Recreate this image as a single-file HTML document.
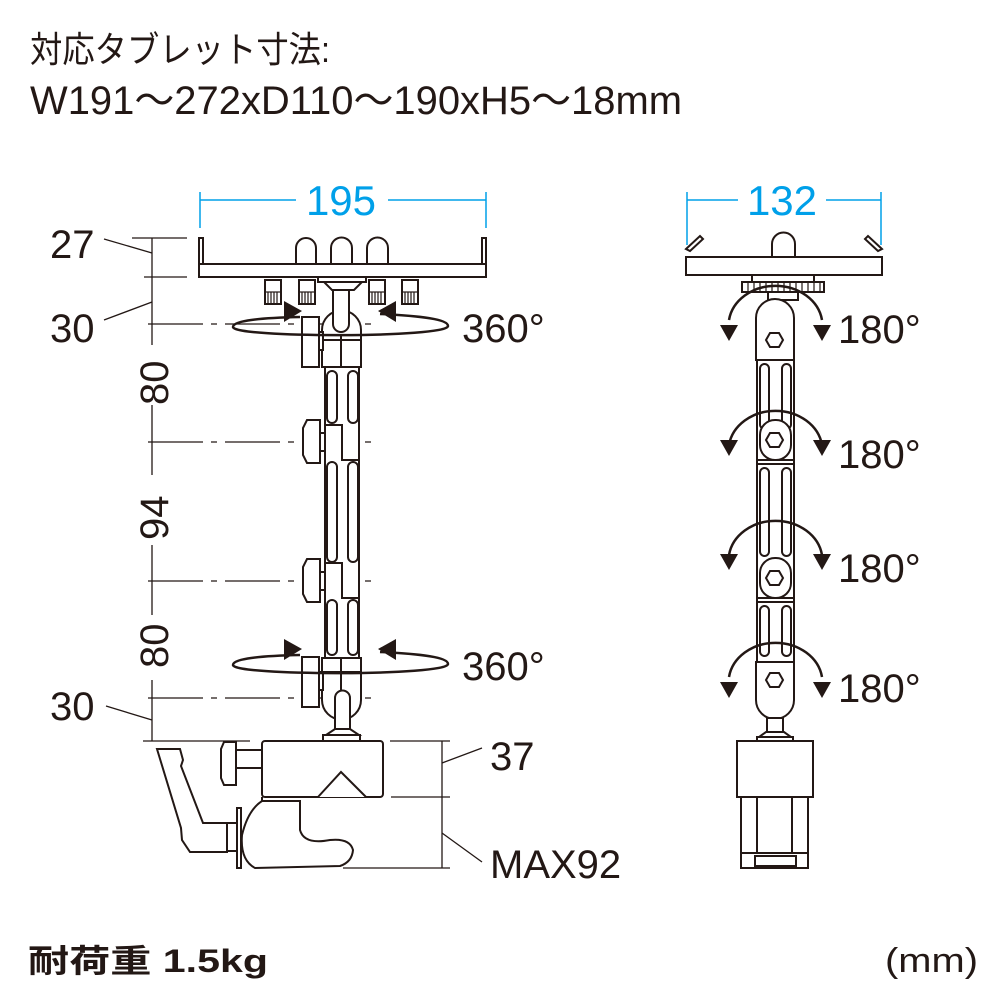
<!DOCTYPE html>
<html><head><meta charset="utf-8"><style>
html,body{margin:0;padding:0;background:#fff}
svg{display:block}
text{font-family:"Liberation Sans","Noto Sans CJK JP",sans-serif;fill:#231815}
</style></head><body>
<svg width="1000" height="1000" viewBox="0 0 1000 1000" xmlns="http://www.w3.org/2000/svg">
<!-- Title -->
<text x="30" y="62" font-size="36" textLength="300" lengthAdjust="spacingAndGlyphs">対応タブレット寸法:</text>
<text x="30" y="114" font-size="40" textLength="652" lengthAdjust="spacingAndGlyphs">W191～272xD110～190xH5～18mm</text>
<text x="28" y="972" font-size="32" font-weight="bold" textLength="240" lengthAdjust="spacingAndGlyphs">耐荷重 1.5kg</text>
<text x="885" y="972" font-size="34" textLength="93" lengthAdjust="spacingAndGlyphs">(mm)</text>

<g stroke="#00a0e9" fill="none" stroke-width="1.5">
<line x1="200" y1="192" x2="200" y2="228"/><line x1="486" y1="192" x2="486" y2="228"/>
<line x1="200" y1="200" x2="296" y2="200"/><line x1="388" y1="200" x2="486" y2="200"/>
<line x1="687" y1="192" x2="687" y2="245"/><line x1="881" y1="192" x2="881" y2="245"/>
<line x1="687" y1="200" x2="738" y2="200"/><line x1="826" y1="200" x2="881" y2="200"/>
</g>
<text x="341" y="215" font-size="42" style="fill:#00a0e9" text-anchor="middle">195</text>
<text x="782" y="215" font-size="42" style="fill:#00a0e9" text-anchor="middle">132</text>

<g stroke="#231815" fill="none" stroke-width="1.3">
<line x1="152" y1="238" x2="152" y2="345"/>
<line x1="152" y1="405" x2="152" y2="475"/>
<line x1="152" y1="545" x2="152" y2="615"/>
<line x1="152" y1="680" x2="152" y2="741"/>
<line x1="132" y1="238" x2="187" y2="238"/>
<line x1="144" y1="277" x2="187" y2="277"/>
<line x1="143" y1="741" x2="250" y2="741"/>
<line x1="104" y1="239" x2="152" y2="253"/>
<line x1="104" y1="320" x2="152" y2="302"/>
<line x1="106" y1="706" x2="152" y2="720"/>
<g stroke-dasharray="55,8,6,8">
<line x1="148" y1="324" x2="375" y2="324"/>
<line x1="148" y1="442" x2="375" y2="442"/>
<line x1="148" y1="581" x2="375" y2="581"/>
<line x1="148" y1="698" x2="375" y2="698"/>
</g>
<line x1="442" y1="741" x2="442" y2="868"/>
<line x1="390" y1="741" x2="450" y2="741"/>
<line x1="391" y1="797" x2="450" y2="797"/>
<line x1="343" y1="868" x2="450" y2="868"/>
<line x1="442" y1="763" x2="482" y2="748"/>
<line x1="442" y1="833" x2="482" y2="862"/>
</g>
<text x="50" y="258" font-size="40">27</text>
<text x="50" y="342" font-size="40">30</text>
<text x="50" y="720" font-size="40">30</text>
<text x="490" y="770" font-size="40">37</text>
<text x="490" y="878" font-size="40">MAX92</text>
<text font-size="40" transform="translate(168,405) rotate(-90)">80</text>
<text font-size="40" transform="translate(168,540) rotate(-90)">94</text>
<text font-size="40" transform="translate(168,668) rotate(-90)">80</text>
<text x="462" y="342" font-size="40">360°</text>
<text x="462" y="680" font-size="40">360°</text>
<text x="838" y="343" font-size="40">180°</text>
<text x="838" y="468" font-size="40">180°</text>
<text x="838" y="582" font-size="40">180°</text>
<text x="838" y="702" font-size="40">180°</text>

<!-- LEFT DEVICE -->
<g stroke="#231815" fill="#fff" stroke-width="2">
<path d="M296,264 V248 a10,10 0 0 1 20,0 V264"/>
<path d="M331,264 V248 a10.5,10.5 0 0 1 21,0 V264"/>
<path d="M367,264 V248 a10.5,10.5 0 0 1 21,0 V264"/>
<rect x="199" y="238" width="4" height="26"/>
<rect x="482" y="238" width="4" height="26"/>
<rect x="199" y="264" width="287" height="13"/>
<rect x="265" y="280" width="16" height="24"/><rect x="299" y="280" width="16" height="24"/>
<rect x="369" y="280" width="16" height="24"/><rect x="402" y="280" width="16" height="24"/>
<g stroke-width="1.2">
<path d="M268,292v12M271,292v12M274,292v12M277,292v12M302,292v12M305,292v12M308,292v12M311,292v12M372,292v12M375,292v12M378,292v12M381,292v12M405,292v12M408,292v12M411,292v12M414,292v12"/>
<line x1="265" y1="292" x2="281" y2="292"/><line x1="299" y1="292" x2="315" y2="292"/><line x1="369" y1="292" x2="385" y2="292"/><line x1="402" y1="292" x2="418" y2="292"/>
</g>
<rect x="318" y="277" width="48" height="5"/>
<path d="M324,282 L362,282 L354,290 L332,290 z"/>
<path d="M322,367 V330 a19,19 0 0 1 39,0 V367 z"/>
<line x1="341" y1="335" x2="341" y2="367"/>
<line x1="322" y1="340" x2="361" y2="340"/>
<path d="M333,290 H349 V324 a8,8 0 0 1 -16,0 z"/>
<rect x="302" y="317" width="17" height="50"/>
<rect x="319" y="332" width="4" height="18"/>
<rect x="325" y="367" width="34" height="331"/>
<rect x="327" y="371" width="10" height="52" rx="5"/><rect x="348" y="371" width="10" height="52" rx="5"/>
<rect x="327" y="462" width="10" height="100" rx="5"/><rect x="348" y="462" width="10" height="100" rx="5"/>
<rect x="327" y="600" width="10" height="55" rx="5"/><rect x="348" y="600" width="10" height="55" rx="5"/>
<path d="M325,425 H342 V460 H359" fill="none"/>
<path d="M325,563 H342 V598 H359" fill="none"/>
<path d="M307,420 H320 V463 H307 L303,455 V428 z"/>
<rect x="320" y="433" width="5" height="18"/>
<path d="M307,559 H320 V602 H307 L303,594 V567 z"/>
<rect x="320" y="572" width="5" height="18"/>
<path d="M322,658 V700 a19,19 0 0 0 39,0 V658 z"/>
<line x1="341" y1="658" x2="341" y2="692"/>
<line x1="322" y1="672" x2="361" y2="672"/>
<rect x="302" y="657" width="17" height="50"/>
<rect x="319" y="672" width="4" height="18"/>
<path d="M335,730 V698 a7.5,7.5 0 0 1 15,0 V730 z"/>
<path d="M335,729 L350,729 L359,735 L326,735 z"/>
<rect x="323" y="735" width="37" height="6"/>
<path d="M262,797 V801 H300 V830 Q304,845 330,840 Q350,838 353,850 Q352,862 340,866 L255,868 Q240,860 242,835 Q248,810 262,801"/>
<rect x="262" y="741" width="121" height="56" rx="3"/>
<path d="M318,797 L341,772 L366,797"/>
<path d="M224,742 H236 L236,785 H224 L221,778 V749 z"/>
<rect x="236" y="750" width="26" height="18"/>
<rect x="237" y="808" width="4" height="60"/>
<rect x="227" y="823" width="10" height="28"/>
<path d="M157,749 H180 L183,760 L181,766 L203,823 H227 V852 H190 L182,840 L181,828 z"/>
</g>

<g stroke="#231815" fill="none" stroke-width="2.5">
<path d="M300,317 C250,318 233,322 233,327 C233,338 448,338 448,326 C448,319 420,316 380,314"/>
<path d="M300,655 C250,656 233,660 233,665 C233,676 448,676 448,664 C448,657 420,654 380,652"/>
</g>
<path d="M284,301 L302,311 L284,322 z" fill="#231815"/>
<path d="M396,301 L378,311 L396,322 z" fill="#231815"/>
<path d="M284,639 L302,649 L284,660 z" fill="#231815"/>
<path d="M396,639 L378,649 L396,660 z" fill="#231815"/>

<!-- RIGHT DEVICE -->
<g stroke="#231815" fill="#fff" stroke-width="2">
<path d="M772,257 V244 a11.5,11.5 0 0 1 23,0 V257"/>
<path d="M686,249 L700,236 L703,239 L690,251 z"/>
<path d="M882,249 L868,236 L865,239 L878,251 z"/>
<rect x="686" y="257" width="196" height="18"/>
<rect x="752" y="275" width="62" height="7"/>
<rect x="742" y="282" width="82" height="10"/>
<path d="M748,282v10M754,282v10M760,282v10M766,282v10M772,282v10M778,282v10M784,282v10M790,282v10M796,282v10M802,282v10M808,282v10M814,282v10M820,282v10" stroke-width="1.2"/>
<rect x="768" y="292" width="30" height="8"/>
<rect x="757" y="340" width="37" height="340"/>
<path d="M756,360 V318 a19,19 0 0 1 38,0 V360 z"/>
<rect x="760" y="364" width="9" height="65" rx="4.5"/><rect x="782" y="364" width="9" height="65" rx="4.5"/>
<rect x="760" y="420" width="31" height="40" rx="15"/>
<line x1="757" y1="460" x2="794" y2="460"/><line x1="757" y1="464" x2="794" y2="464"/>
<rect x="760" y="468" width="9" height="88" rx="4.5"/><rect x="782" y="468" width="9" height="88" rx="4.5"/>
<rect x="760" y="558" width="31" height="40" rx="15"/>
<line x1="757" y1="598" x2="794" y2="598"/><line x1="757" y1="602" x2="794" y2="602"/>
<rect x="760" y="606" width="9" height="50" rx="4.5"/><rect x="782" y="606" width="9" height="50" rx="4.5"/>
<path d="M756,662 V700 a19,19 0 0 0 38,0 V662 z"/>
<rect x="767" y="718" width="16" height="14"/>
<path d="M766,732 H784 L791,737 H759 z"/>
<rect x="757" y="737" width="36" height="4"/>
<rect x="737" y="741" width="76" height="56"/>
<rect x="741" y="797" width="67" height="71"/>
<line x1="757" y1="797" x2="757" y2="853"/><line x1="792" y1="797" x2="792" y2="853"/>
<line x1="741" y1="853" x2="808" y2="853"/>
<rect x="755" y="856" width="41" height="10"/>
</g>
<g stroke="#231815" fill="none" stroke-width="2">
<polygon points="770,333 779,333 783,340 779,347 770,347 766,340"/>
<polygon points="770,433 779,433 783,440 779,447 770,447 766,440"/>
<polygon points="770,571 779,571 783,578 779,585 770,585 766,578"/>
<polygon points="770,673 779,673 783,680 779,687 770,687 766,680"/>
</g>
<g stroke="#231815" fill="none" stroke-width="2.5">
<path d="M729,320 A47,40 0 0 1 822,320"/>
<path d="M729,445 A47,40 0 0 1 822,445"/>
<path d="M729,555 A47,40 0 0 1 822,555"/>
<path d="M729,677 A47,40 0 0 1 822,677"/>
</g>
<g fill="#231815">
<path d="M720,325 L738,325 L729,341 z"/><path d="M813,325 L831,325 L822,341 z"/>
<path d="M720,440 L738,440 L729,456 z"/><path d="M813,440 L831,440 L822,456 z"/>
<path d="M720,554 L738,554 L729,570 z"/><path d="M813,554 L831,554 L822,570 z"/>
<path d="M720,682 L738,682 L729,698 z"/><path d="M813,682 L831,682 L822,698 z"/>
</g>
</svg>
</body></html>
